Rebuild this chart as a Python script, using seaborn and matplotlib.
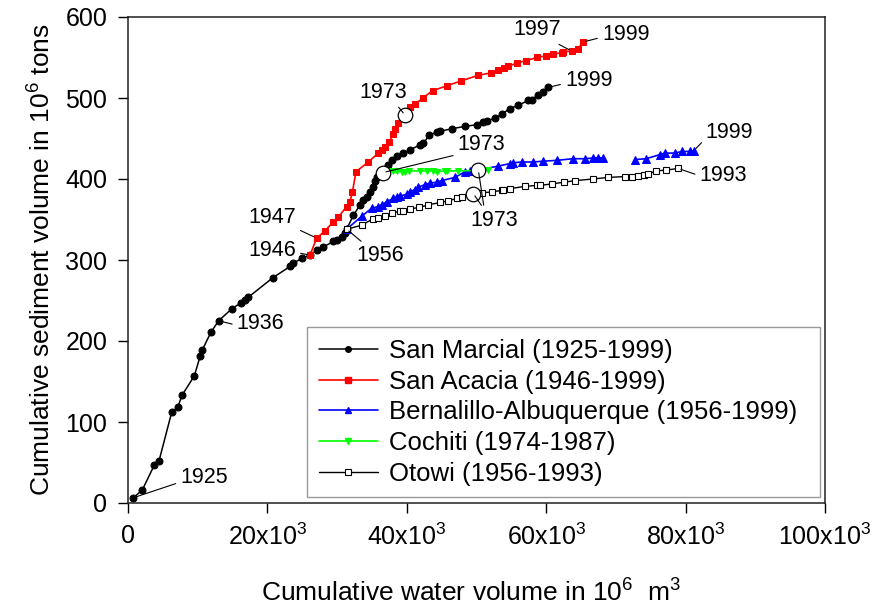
import matplotlib
matplotlib.use("Agg")
import matplotlib.pyplot as plt
from matplotlib.lines import Line2D
import seaborn as sns
import pandas as pd

# ---------------- data (x in 10^6 m^3, y in 10^6 tons) ----------------
marcial_x = [770, 2050, 3780, 4450, 6270, 7130, 7750, 9520, 10380, 10660, 11910, 13010,
             14920, 16210, 16790, 17260, 20760, 23240, 23720, 24920, 26110, 27070, 28020,
             29460, 29940, 30660, 31130, 31370, 32330, 33290, 33760, 34240, 34720, 35100,
             35440, 35770, 36630, 37350, 37830, 38550, 39500, 40460, 41890, 42370, 43230,
             44290, 44760, 46440, 48350, 50030, 50980, 51550, 52650, 53610, 54810, 56000,
             57430, 57920, 58870, 59490, 60300]
marcial_y = [6.5, 16, 47, 52, 112, 118, 133, 157, 182, 189, 211, 225,
             240, 247, 251, 254, 278, 292, 296, 302, 306, 312, 316,
             323, 325, 329, 333, 338, 355, 368, 374, 378, 384, 390,
             397, 402, 408, 417, 423, 428, 432, 436, 442, 444, 454,
             458, 459, 462, 465, 467, 470, 472, 475, 480, 487, 491,
             497, 498, 504, 507, 513]

acacia_x = [26110, 27070, 28260, 29460, 30170, 31370, 31850, 32200, 32710, 34480, 35920,
            36400, 36870, 37490, 38070, 38310, 38690, 39740, 40460, 41180, 42280, 43720,
            45720, 47730, 50260, 52080, 53130, 53940, 54470, 55770, 57060, 58640, 59970,
            61020, 62220, 62460, 63650, 64520, 65240]
acacia_y = [306, 327, 336, 347, 353, 366, 372, 384, 409, 421, 432,
            436, 440, 446, 456, 462, 469, 479, 489, 492, 500, 509,
            515, 521, 528, 531, 535, 537, 539, 543, 546, 550, 552,
            554, 556, 557, 558, 560, 569]

bern_x = [31370, 33530, 34960, 35920, 36400, 37110, 38070, 38550, 39020, 40000, 40460,
          41180, 41650, 42610, 43330, 44290, 45000, 46920, 48350, 49070, 50260, 53130,
          54810, 55190, 56480, 58080, 59590, 61500, 63790, 65570, 66760, 67470, 68100,
          72740, 74300, 76280, 77000, 78430, 79500, 80580, 81180]
bern_y = [338, 354, 364, 366, 368, 372, 376, 378, 379, 381, 384,
          387, 390, 393, 395, 396, 398, 402, 409, 410, 411, 416,
          419, 420, 421, 421, 422, 423, 425, 425, 426, 426, 426,
          424, 425, 430, 432, 432, 434, 434, 435]
bern_segment = [0] * 33 + [1] * 8   # record gap between the two segments

cochiti_x = [37300, 38000, 38600, 39300, 39800, 40300, 41900, 42900, 43800, 44300,
             45500, 45800, 47400, 51700]
cochiti_y = [410, 410, 410, 409, 409, 410, 410, 410, 410, 409, 410, 410, 410, 411]

otowi_x = [31400, 33530, 35190, 35920, 36870, 37830, 39020, 39500, 40460, 41790, 43090,
           44760, 45960, 47150, 47870, 49550, 50750, 52170, 53610, 53850, 54810, 56960,
           58640, 59110, 60790, 62550, 64130, 66700, 68910, 71300, 72250, 73210, 73980,
           74650, 75730, 77190, 78950]
otowi_y = [338, 343, 351, 352, 354, 358, 360, 360, 363, 365, 368,
           371, 373, 376, 378, 382, 383, 384, 386, 387, 388, 391,
           392, 392, 394, 396, 398, 400, 402, 403, 403, 404, 405,
           406, 410, 411, 413]

series_labels = ["San Marcial (1925-1999)", "San Acacia (1946-1999)",
                 "Bernalillo-Albuquerque (1956-1999)", "Cochiti (1974-1987)",
                 "Otowi (1956-1993)"]

x_ticks = [0, 20000, 40000, 60000, 80000, 100000]
x_tick_labels = ["0", "20x10$^3$", "40x10$^3$", "60x10$^3$", "80x10$^3$", "100x10$^3$"]
y_ticks = [0, 100, 200, 300, 400, 500, 600]

# ---------------- style ----------------
sns.set_theme(style="white")
plt.rcParams["font.family"] = ["Liberation Sans", "DejaVu Sans"]
plt.rcParams["mathtext.fontset"] = "custom"
plt.rcParams["mathtext.rm"] = "Liberation Sans"
plt.rcParams["mathtext.it"] = "Liberation Sans"
plt.rcParams["mathtext.default"] = "regular"
plt.rcParams["text.color"] = "black"
plt.rcParams["axes.labelcolor"] = "black"

fig = plt.figure(figsize=(8.76, 6.07), dpi=100)
ax = fig.add_axes([128 / 876, 1 - 503 / 607, 697 / 876, 486 / 607])

common = dict(sort=False, estimator=None, ax=ax, legend=False)

sns.lineplot(x=marcial_x, y=marcial_y, color="black", lw=1.1, marker="o",
             markersize=5, markeredgecolor="black", markerfacecolor="black", **common)
sns.lineplot(x=acacia_x, y=acacia_y, color="#FF0000", lw=1.2, marker="s",
             markersize=4.5, markeredgecolor="#FF0000", markerfacecolor="#FF0000", **common)
bern_df = pd.DataFrame({"x": bern_x, "y": bern_y, "seg": bern_segment})
sns.lineplot(data=bern_df, x="x", y="y", units="seg", color="#0000FF", lw=1.2,
             marker="^", markersize=5.5, markeredgecolor="#0000FF",
             markerfacecolor="#0000FF", **common)
sns.lineplot(x=cochiti_x, y=cochiti_y, color="#00FF00", lw=1.2, marker="v",
             markersize=5, markeredgecolor="#00FF00", markerfacecolor="#00FF00", **common)
sns.lineplot(x=otowi_x, y=otowi_y, color="black", lw=1.0, marker="s",
             markersize=5, markeredgecolor="black", markerfacecolor="white",
             markeredgewidth=0.8, **common)

# 1973 markers (open circles)
c_x = [acacia_x[17], marcial_x[36], bern_x[20], otowi_x[15]]
c_y = [acacia_y[17], marcial_y[36], bern_y[20], otowi_y[15]]
sns.scatterplot(x=c_x, y=c_y, s=110, facecolor="white", edgecolor="black",
                linewidth=0.9, ax=ax, zorder=5, legend=False)

# ---------------- annotations ----------------
afs = 15.5
def note(text, xy, xytext, ha, va, relpos, alpha=1):
    ax.annotate(text, xy=xy, xytext=xytext, textcoords="data", ha=ha, va=va,
                fontsize=afs, zorder=6, color="black", alpha=alpha,
                arrowprops=dict(arrowstyle="-", color="black", lw=0.8, alpha=1,
                                shrinkA=1, shrinkB=2, relpos=relpos))

note("1925", (marcial_x[0], marcial_y[0]), (7500, 31), "left", "center", (0, 0.3))
note("1936", (marcial_x[11], marcial_y[11]), (15600, 222), "left", "center", (0, 0.4))
note("1946", (acacia_x[0], acacia_y[0]), (24100, 312), "right", "center", (1, 0.4))
note("1947", (acacia_x[1], acacia_y[1]), (24100, 352), "right", "center", (1, 0.0))
note("1956", (marcial_x[27], marcial_y[27]), (32800, 305), "left", "center", (0.2, 1.0))
note("1973", (acacia_x[17], acacia_y[17]), (36600, 507), "center", "center", (0.75, 0.0))
note("1973", (marcial_x[36], marcial_y[36]), (47300, 442), "left", "center", (0, 0.05))
note("1973", (bern_x[20], bern_y[20]), (52500, 349), "center", "center", (0.3, 1.0))
# second leader line to the same label (text already drawn above)
note("1973", (otowi_x[15], otowi_y[15]), (52500, 349), "center", "center", (0.3, 1.0),
     alpha=0)
note("1997", (acacia_x[36], acacia_y[36]), (58700, 584), "center", "center", (0.8, 0.0))
note("1999", (acacia_x[-1], acacia_y[-1]), (68000, 579), "left", "center", (0, 0.35))
note("1999", (marcial_x[-1], marcial_y[-1]), (62700, 522), "left", "center", (0, 0.35))
note("1999", (bern_x[-1], bern_y[-1]), (82900, 458), "left", "center", (0, 0.2))
note("1993", (otowi_x[-1], otowi_y[-1]), (82000, 404), "left", "center", (0, 0.5))

# ---------------- axes ----------------
ax.set_xlim(0, 100000)
ax.set_ylim(0, 600)
ax.set_xticks(x_ticks)
ax.set_xticklabels(x_tick_labels)
ax.set_yticks(y_ticks)
ax.tick_params(axis="both", which="major", direction="out", length=7, width=1,
               colors="black", labelsize=18, bottom=True, left=True, pad=8)
for s in ax.spines.values():
    s.set_color("#202020")
    s.set_linewidth(1.1)

ax.set_xlabel("Cumulative water volume in 10$^6$  m$^3$", fontsize=19, color="black")
ax.set_ylabel("Cumulative sediment volume in 10$^6$ tons", fontsize=19, color="black")
ax.xaxis.set_label_coords(0.492, -0.158)
ax.yaxis.set_label_coords(-0.104, 0.5)

# ---------------- legend ----------------
handles = [
    Line2D([], [], color="black", lw=1.1, marker="o", markersize=4),
    Line2D([], [], color="#FF0000", lw=1.2, marker="s", markersize=4),
    Line2D([], [], color="#0000FF", lw=1.2, marker="^", markersize=4),
    Line2D([], [], color="#00FF00", lw=1.2, marker="v", markersize=4),
    Line2D([], [], color="black", lw=1.0, marker="s", markersize=4,
           markerfacecolor="white", markeredgewidth=0.8),
]
leg = ax.legend(handles, series_labels, loc="lower left",
                bbox_to_anchor=(0.257, 0.012, 0.736, 0.352), mode="expand",
                borderaxespad=0, fontsize=18.5, frameon=True, fancybox=False,
                handlelength=2.3, handletextpad=0.45, labelspacing=0.26,
                borderpad=0.45, edgecolor="#808080")
leg.get_frame().set_linewidth(1.0)
for t in leg.get_texts():
    t.set_color("black")

fig.savefig("out.png", dpi=100)
